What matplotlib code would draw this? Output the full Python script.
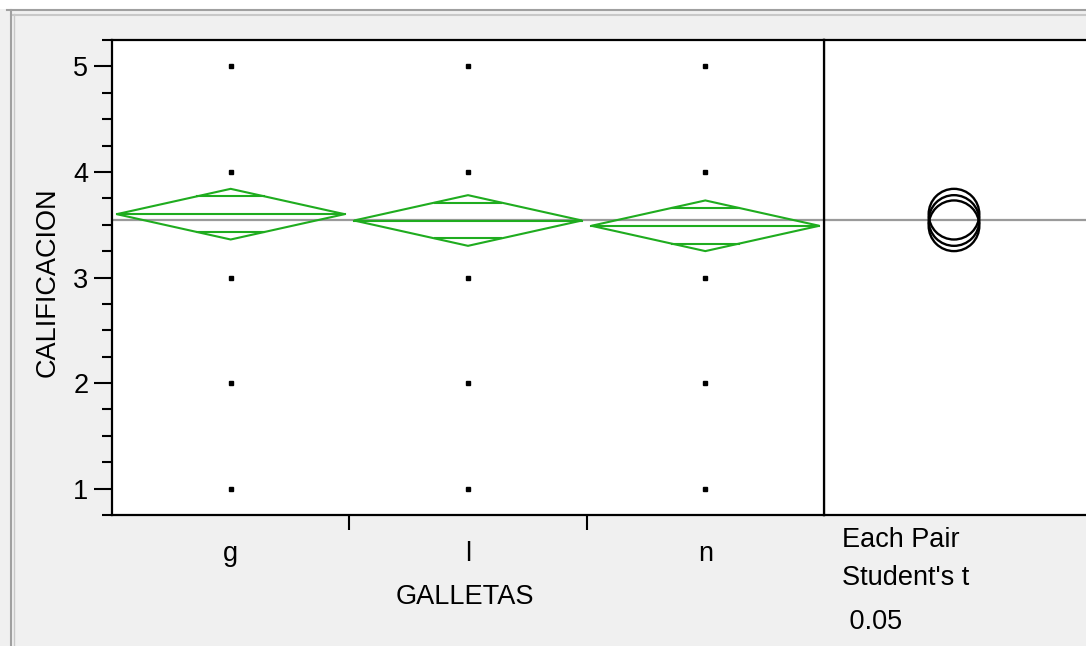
import numpy as np
import matplotlib.pyplot as plt
from matplotlib.patches import Polygon, Ellipse, Rectangle
from matplotlib.lines import Line2D

plt.rcParams['font.family'] = ['Liberation Sans', 'DejaVu Sans']

# datos
groups = ['g', 'l', 'n']
means = [3.60, 3.54, 3.49]
ci_half = [0.24, 0.24, 0.24]
grand_mean = 3.545
point_values = [1, 2, 3, 4, 5]
y_ticks = [1, 2, 3, 4, 5]
x_label = 'GALLETAS'
y_label = 'CALIFICACION'
test_text = ['Each Pair', "Student's t", ' 0.05']

W, H = 1086, 646
fig = plt.figure(figsize=(W / 100, H / 100), dpi=100, facecolor='#f0f0f0')


def px(x0, y0, x1, y1):
    # caja en pixeles (arriba-izquierda) -> fraccion de figura
    return [x0 / W, 1 - y1 / H, (x1 - x0) / W, (y1 - y0) / H]


# franja blanca arriba y marco de ventana
fig.patches.append(Rectangle((0, 1 - 9 / H), 1, 9 / H, transform=fig.transFigure,
                             facecolor='white', edgecolor='none', zorder=0))
fig.lines.append(Line2D([7 / W, 1], [1 - 10 / H] * 2, transform=fig.transFigure, color='#a0a0a0', lw=1.5))
fig.lines.append(Line2D([11 / W, 1], [1 - 14.5 / H] * 2, transform=fig.transFigure, color='#c8c8c8', lw=1.5))
fig.lines.append(Line2D([11 / W] * 2, [0, 1 - 10 / H], transform=fig.transFigure, color='#a0a0a0', lw=1.5))
fig.lines.append(Line2D([14 / W] * 2, [0, 1 - 14 / H], transform=fig.transFigure, color='#c8c8c8', lw=1.0))

ylim = (0.75, 5.25)
green = '#1fac1f'

# panel de circulos de comparacion (va primero para no tapar el eje principal)
ax2 = fig.add_axes(px(824, 40, 1086, 515))
ax2.set_xlim(0, 262)
ax2.set_ylim(*ylim)
ax2.set_facecolor('white')
ax2.set_xticks([])
ax2.set_yticks([])
ax2.spines['right'].set_visible(False)
for s in ['top', 'bottom', 'left']:
    ax2.spines[s].set_linewidth(1.6)
    ax2.spines[s].set_color('black')
ax2.axhline(grand_mean, color='#9a9a9a', lw=1.6, zorder=1)

ppu = 475 / (ylim[1] - ylim[0])
for m, h in zip(means, ci_half):
    ax2.add_patch(Ellipse((130, m), 2 * h * ppu, 2 * h, fill=False, edgecolor='black', lw=1.7, zorder=3))

ax = fig.add_axes(px(112, 40, 824, 515))
ax.set_xlim(-0.5, 2.5)
ax.set_ylim(*ylim)
ax.set_facecolor('white')

ax.axhline(grand_mean, color='#9a9a9a', lw=1.6, zorder=1)

w = 0.48
for i, (m, h) in enumerate(zip(means, ci_half)):
    pts = [(i - w, m), (i, m + h), (i + w, m), (i, m - h)]
    ax.add_patch(Polygon(pts, closed=True, fill=False, edgecolor=green, lw=1.5, zorder=3))
    ax.plot([i - w, i + w], [m, m], color=green, lw=1.5, zorder=3)
    d = h / np.sqrt(2)
    hw = w * (1 - d / h)
    ax.plot([i - hw, i + hw], [m + d, m + d], color=green, lw=1.5, zorder=3)
    ax.plot([i - hw, i + hw], [m - d, m - d], color=green, lw=1.5, zorder=3)
    ax.plot([i] * len(point_values), point_values, 's', color='black', ms=3, zorder=4)

for s in ['left', 'top', 'bottom', 'right']:
    ax.spines[s].set_linewidth(1.6)
    ax.spines[s].set_color('black')

ax.set_yticks(y_ticks)
ax.set_yticks([v for v in np.arange(0.75, 5.26, 0.25) if v not in y_ticks], minor=True)
ax.tick_params(axis='y', which='major', length=13, width=1.5, pad=4, labelsize=19.5)
ax.tick_params(axis='y', which='minor', length=7, width=1.5)

ax.set_xticks(range(len(groups)))
ax.set_xticklabels(groups)
ax.set_xticks([0.5, 1.5], minor=True)
ax.tick_params(axis='x', which='major', length=0, pad=19, labelsize=19.5)
ax.tick_params(axis='x', which='minor', length=11, width=1.5)

fig.text(48 / W, 1 - 282 / H, y_label, rotation=90, ha='center', va='center', fontsize=19.5)
fig.text(465 / W, 1 - 597 / H, x_label, ha='center', va='center', fontsize=19.5)

for t, yy in zip(test_text, [540, 578, 622]):
    fig.text(842 / W, 1 - yy / H, t, ha='left', va='center', fontsize=19.5)

fig.savefig('out.png', dpi=100, facecolor=fig.get_facecolor())
